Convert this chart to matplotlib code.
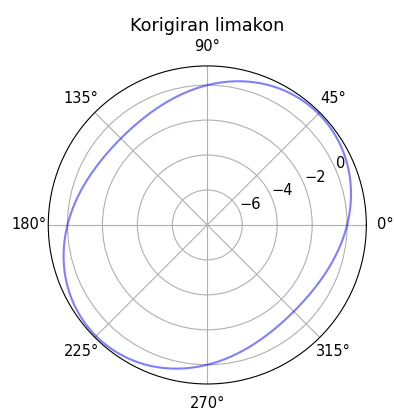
import numpy as np
import matplotlib
matplotlib.use("Agg")
import matplotlib.pyplot as plt

# limacon parameters: r = amplitude * sin(lobes * theta)
amplitude = 1.0
lobes = 2
r_min = -8
n_points = 1000

theta = np.linspace(0, 2 * np.pi, n_points)
r = amplitude * np.sin(lobes * theta)

fig = plt.figure(figsize=(3.94, 4.12), dpi=100)
ax = fig.add_axes([0.1218, 0.068, 0.8087, 0.772], projection='polar')
ax.plot(theta, r, color='blue', alpha=0.5, linewidth=1.5)
ax.set_rmin(r_min)
ax.tick_params(labelsize=10.5)
ax.set_title("Korigiran limakon", fontsize=12.7)

plt.savefig('out.png', dpi=100)
